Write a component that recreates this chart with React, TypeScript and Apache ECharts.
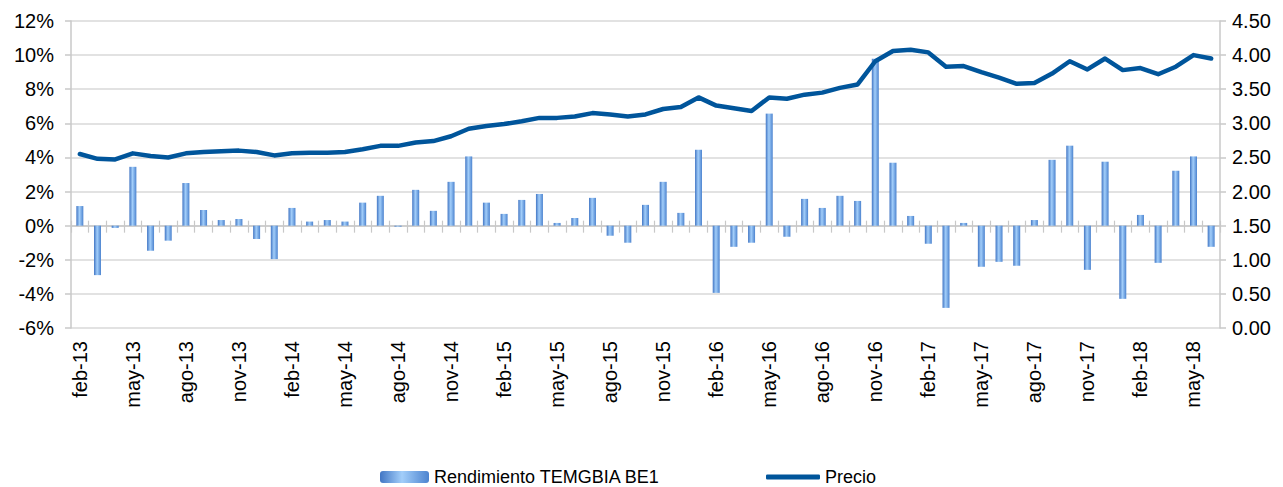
import React, { useEffect, useRef } from "react";
import * as echarts from "echarts";

const categories = [
  "feb-13","mar-13","abr-13","may-13","jun-13","jul-13","ago-13","sep-13","oct-13","nov-13","dic-13",
  "ene-14","feb-14","mar-14","abr-14","may-14","jun-14","jul-14","ago-14","sep-14","oct-14","nov-14","dic-14",
  "ene-15","feb-15","mar-15","abr-15","may-15","jun-15","jul-15","ago-15","sep-15","oct-15","nov-15","dic-15",
  "ene-16","feb-16","mar-16","abr-16","may-16","jun-16","jul-16","ago-16","sep-16","oct-16","nov-16","dic-16",
  "ene-17","feb-17","mar-17","abr-17","may-17","jun-17","jul-17","ago-17","sep-17","oct-17","nov-17","dic-17",
  "ene-18","feb-18","mar-18","abr-18","may-18","jun-18",
];

// Rendimiento TEMGBIA BE1 (%)
const rendimiento = [
  1.15, -2.9, -0.13, 3.45, -1.47, -0.88, 2.5, 0.92, 0.33, 0.39, -0.78,
  -1.96, 1.04, 0.24, 0.33, 0.24, 1.35, 1.75, -0.06, 2.1, 0.87, 2.57, 4.06,
  1.35, 0.69, 1.51, 1.86, 0.16, 0.45, 1.63, -0.59, -1.0, 1.22, 2.57, 0.75,
  4.45, -3.94, -1.24, -1.0, 6.57, -0.65, 1.57, 1.04, 1.75, 1.45, 9.78, 3.69,
  0.57, -1.06, -4.82, 0.16, -2.41, -2.12, -2.35, 0.33, 3.86, 4.69, -2.59, 3.75,
  -4.29, 0.63, -2.18, 3.22, 4.06, -1.24,
];

// Precio
const precio = [
  2.55, 2.48, 2.47, 2.56, 2.52, 2.5, 2.56, 2.58, 2.59, 2.6, 2.58,
  2.53, 2.56, 2.57, 2.57, 2.58, 2.62, 2.67, 2.67, 2.72, 2.74, 2.81, 2.92,
  2.96, 2.99, 3.03, 3.08, 3.08, 3.1, 3.15, 3.13, 3.1, 3.13, 3.21, 3.24,
  3.38, 3.26, 3.22, 3.18, 3.38, 3.36, 3.42, 3.45, 3.52, 3.57, 3.91, 4.06,
  4.08, 4.04, 3.83, 3.84, 3.75, 3.67, 3.58, 3.59, 3.73, 3.91, 3.79, 3.95,
  3.78, 3.81, 3.72, 3.83, 4.0, 3.95,
];

const leftAxis = { min: -6, max: 12, interval: 2 };
const rightAxis = { min: 0, max: 4.5, interval: 0.5 };

const FONT = "'Liberation Sans', Arial, sans-serif";

export default function App() {
  const ref = useRef<HTMLDivElement>(null);

  useEffect(() => {
    document.body.style.margin = "0";
    if (!ref.current) return;
    const chart = echarts.init(ref.current, undefined, { renderer: "svg" });
    const barColor = new echarts.graphic.LinearGradient(0, 0, 1, 0, [
      { offset: 0, color: "#4276c4" },
      { offset: 0.45, color: "#a2cefa" },
      { offset: 1, color: "#4c83cf" },
    ]);
    chart.setOption({
      animation: false,
      backgroundColor: "#ffffff",
      textStyle: { fontFamily: FONT },
      grid: { left: 71, right: 63, top: 21, bottom: 159, containLabel: false },
      legend: [
        {
          data: ["Rendimiento TEMGBIA BE1"],
          left: 378,
          top: 466,
          padding: 2,
          itemWidth: 49,
          itemHeight: 12,
          itemGap: 0,
          textStyle: { fontSize: 18, lineHeight: 18, color: "#000", fontFamily: FONT },
        },
        {
          data: [{ name: "Precio", icon: "roundRect" }],
          left: 764,
          top: 466,
          padding: 2,
          itemWidth: 54,
          itemHeight: 5,
          itemGap: 0,
          textStyle: { fontSize: 18, lineHeight: 18, color: "#000", fontFamily: FONT },
        },
      ],
      xAxis: [
        {
          type: "category",
          data: categories,
          position: "bottom",
          axisLine: { show: false, onZero: false },
          axisTick: { show: false },
          axisLabel: {
            interval: 2,
            rotate: 90,
            margin: 13,
            fontSize: 20,
            color: "#000",
            fontFamily: FONT,
          },
          splitLine: { show: false },
        },
        {
          type: "category",
          data: categories,
          position: "bottom",
          axisLine: { show: true, onZero: true, onZeroAxisIndex: 0, lineStyle: { color: "#c8c8c8", width: 1.5 } },
          axisTick: { show: true, interval: 0, length: 7, lineStyle: { color: "#c8c8c8", width: 1.2 } },
          axisLabel: { show: false },
          splitLine: { show: false },
        },
        {
          type: "category",
          data: categories,
          position: "bottom",
          axisLine: { show: false, onZero: true, onZeroAxisIndex: 0 },
          axisTick: { show: true, inside: true, interval: 0, length: 5, lineStyle: { color: "#c8c8c8", width: 1.2 } },
          axisLabel: { show: false },
          splitLine: { show: false },
        },
      ],
      yAxis: [
        {
          type: "value",
          position: "left",
          min: leftAxis.min,
          max: leftAxis.max,
          interval: leftAxis.interval,
          axisLine: { show: true, onZero: false, lineStyle: { color: "#c8c8c8", width: 1.5 } },
          axisTick: { show: true, length: 6, lineStyle: { color: "#c8c8c8", width: 1.5 } },
          axisLabel: {
            formatter: (v: number) => `${v}%`,
            fontSize: 20,
            color: "#000",
            margin: 17,
            fontFamily: FONT,
          },
          splitLine: { show: true, lineStyle: { color: "#d9d9d9", width: 1.6 } },
        },
        {
          type: "value",
          position: "right",
          min: rightAxis.min,
          max: rightAxis.max,
          interval: rightAxis.interval,
          axisLine: { show: true, onZero: false, lineStyle: { color: "#c8c8c8", width: 1.5 } },
          axisTick: { show: true, length: 6, lineStyle: { color: "#c8c8c8", width: 1.5 } },
          axisLabel: {
            formatter: (v: number) => v.toFixed(2),
            fontSize: 20,
            color: "#000",
            margin: 12,
            fontFamily: FONT,
          },
          splitLine: { show: false },
        },
      ],
      series: [
        {
          name: "Rendimiento TEMGBIA BE1",
          type: "bar",
          xAxisIndex: 0,
          yAxisIndex: 0,
          data: rendimiento,
          barWidth: 7,
          itemStyle: { color: barColor },
          z: 2,
        },
        {
          name: "Precio",
          type: "line",
          xAxisIndex: 0,
          yAxisIndex: 1,
          data: precio,
          symbol: "none",
          lineStyle: { color: "#00559b", width: 4.5, join: "round", cap: "round" },
          itemStyle: { color: "#00559b" },
          z: 3,
        },
      ],
    });
    return () => chart.dispose();
  }, []);

  return <div ref={ref} style={{ width: 1283, height: 487 }} />;
}
